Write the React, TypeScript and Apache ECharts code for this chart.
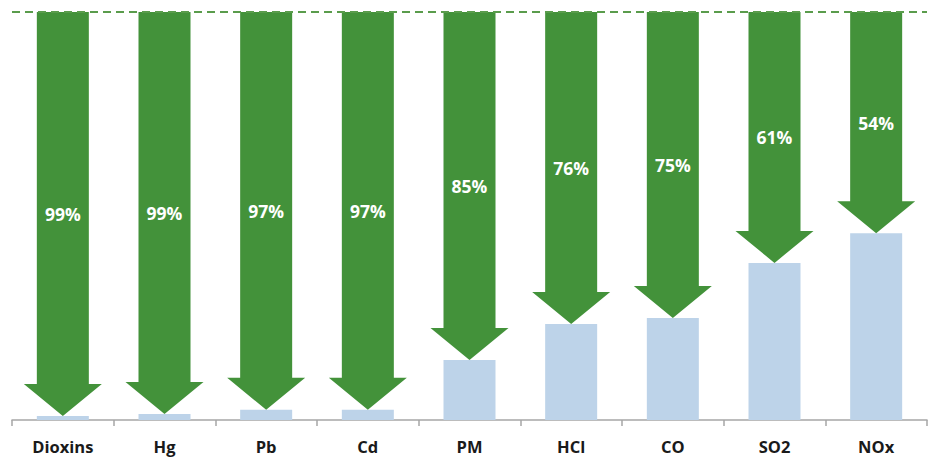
import React, { useEffect, useRef } from "react";
import * as echarts from "echarts";

const categories = ["Dioxins", "Hg", "Pb", "Cd", "PM", "HCl", "CO", "SO2", "NOx"];
const reductions = [99, 99, 97, 97, 85, 76, 75, 61, 54];
const remaining = [1, 1.5, 2.5, 2.5, 14.7, 23.5, 25, 38.5, 45.8];

const GREEN = "#43923a";
const BLUE = "#bdd3e9";

export default function App() {
  const ref = useRef<HTMLDivElement>(null);
  useEffect(() => {
    if (!ref.current) return;
    const chart = echarts.init(ref.current, null, { renderer: "svg" });
    const shaftW = 52;
    const headW = 78;
    const headH = 32;
    chart.setOption({
      animation: false,
      grid: { left: 12, right: 9, top: 12, bottom: 38 },
      xAxis: {
        type: "category",
        data: categories,
        boundaryGap: true,
        axisLine: { lineStyle: { color: "#a6a6a6", width: 1.5 } },
        axisTick: { show: true, length: 6, lineStyle: { color: "#a6a6a6", width: 1.5 } },
        axisLabel: {
          color: "#1a1a1a",
          fontFamily: "Open Sans",
          fontWeight: "bold",
          fontSize: 16.5,
          margin: 18,
        },
      },
      yAxis: {
        type: "value",
        min: 0,
        max: 100,
        show: false,
        splitLine: { show: false },
      },
      series: [
        {
          type: "bar",
          data: remaining,
          barWidth: shaftW,
          itemStyle: { color: BLUE },
          markLine: {
            silent: true,
            symbol: "none",
            label: { show: false },
            lineStyle: { color: "#5a9c4c", type: [8, 5], width: 2 },
            data: [{ yAxis: 100 }],
          },
          z: 1,
        },
        {
          type: "custom",
          data: categories.map((_, i) => [i, remaining[i], reductions[i]]),
          z: 3,
          renderItem: (params: any, api: any) => {
            const i = api.value(0);
            const rem = api.value(1);
            const red = api.value(2);
            const top = api.coord([i, 100]);
            const tip = api.coord([i, rem]);
            const cx = top[0];
            const y0 = top[1];
            const y1 = tip[1];
            const hy = y1 - headH;
            const points = [
              [cx - shaftW / 2, y0],
              [cx + shaftW / 2, y0],
              [cx + shaftW / 2, hy],
              [cx + headW / 2, hy],
              [cx, y1],
              [cx - headW / 2, hy],
              [cx - shaftW / 2, hy],
            ];
            return {
              type: "group",
              children: [
                { type: "polygon", shape: { points }, style: { fill: GREEN } },
                {
                  type: "text",
                  x: cx,
                  y: (y0 + y1) / 2,
                  style: {
                    text: red + "%",
                    fill: "#ffffff",
                    font: "bold 17.5px 'Open Sans'",
                    align: "center",
                    verticalAlign: "middle",
                  },
                },
              ],
            };
          },
        },
      ],
    });
    return () => chart.dispose();
  }, []);
  return (
    <div
      ref={ref}
      style={{ position: "absolute", left: 0, top: 0, width: 936, height: 458, background: "#fff" }}
    />
  );
}
